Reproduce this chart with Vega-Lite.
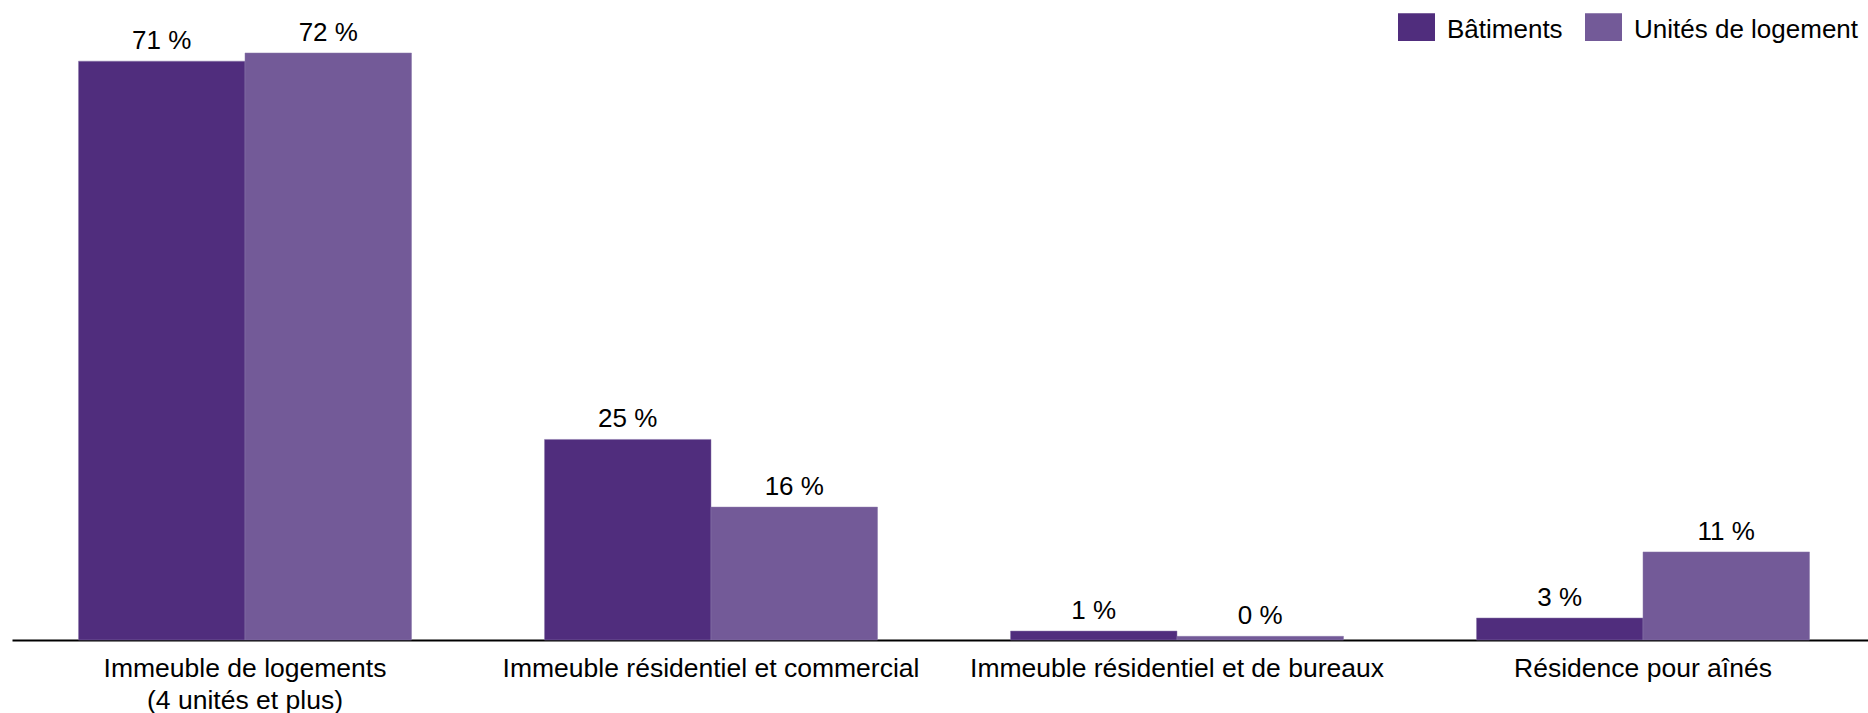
{
  "$schema": "https://vega.github.io/schema/vega-lite/v6.json",
  "autosize": {"type": "none"},
  "width": 1856,
  "height": 640,
  "padding": {"left": 12, "top": 0, "right": 0, "bottom": 73},
  "config": {
    "view": {"stroke": null},
    "font": "Liberation Sans",
    "locale": {"number": {"decimal": ",", "thousands": " ", "grouping": [3], "currency": ["", " €"], "percent": " %"}}
  },
  "data": {
    "values": [
      {"type": "Immeuble de logements (4 unités et plus)", "series": "Bâtiments", "value": 0.71},
      {"type": "Immeuble de logements (4 unités et plus)", "series": "Unités de logement", "value": 0.72},
      {"type": "Immeuble résidentiel et commercial", "series": "Bâtiments", "value": 0.246},
      {"type": "Immeuble résidentiel et commercial", "series": "Unités de logement", "value": 0.163},
      {"type": "Immeuble résidentiel et de bureaux", "series": "Bâtiments", "value": 0.011},
      {"type": "Immeuble résidentiel et de bureaux", "series": "Unités de logement", "value": 0.0045},
      {"type": "Résidence pour aînés", "series": "Bâtiments", "value": 0.027},
      {"type": "Résidence pour aînés", "series": "Unités de logement", "value": 0.108}
    ]
  },
  "encoding": {
    "x": {
      "field": "type", "type": "nominal", "sort": null,
      "scale": {"range": [0, 1864], "paddingInner": 0.2854, "paddingOuter": 0.1427},
      "axis": {
        "title": null, "labelAngle": 0, "ticks": false, "domain": true,
        "domainColor": "#000000", "domainWidth": 2,
        "labelFontSize": 26.5, "labelColor": "#000000", "labelFont": "Liberation Sans",
        "labelPadding": 15, "labelLineHeight": 32, "labelLimit": 0,
        "labelExpr": "datum.label == 'Immeuble de logements (4 unités et plus)' ? ['Immeuble de logements', '(4 unités et plus)'] : datum.label"
      }
    },
    "xOffset": {"field": "series", "type": "nominal", "sort": ["Bâtiments", "Unités de logement"], "scale": {"paddingInner": 0, "paddingOuter": 0}},
    "y": {"field": "value", "type": "quantitative", "scale": {"domain": [0, 0.785], "nice": false, "zero": true}, "axis": null}
  },
  "layer": [
    {
      "mark": {"type": "bar", "stroke": "#8a78ab", "strokeWidth": 0.5},
      "encoding": {
        "color": {
          "field": "series", "type": "nominal",
          "scale": {"domain": ["Bâtiments", "Unités de logement"], "range": ["#502D7D", "#735A98"]},
          "legend": {
            "title": null, "orient": "none", "direction": "horizontal",
            "legendX": 1386, "legendY": 11, "padding": 0,
            "symbolType": "M-1,-0.892H1V0.605H-1Z", "symbolSize": 1369,
            "symbolStrokeWidth": 0, "symbolOpacity": 1,
            "labelFontSize": 26, "labelColor": "#000000", "labelFont": "Liberation Sans",
            "labelOffset": 12, "columnPadding": 22, "labelLimit": 0
          }
        }
      }
    },
    {
      "mark": {"type": "text", "baseline": "alphabetic", "dy": -12, "fontSize": 26, "color": "#000000", "font": "Liberation Sans"},
      "encoding": {
        "text": {"field": "value", "type": "quantitative", "format": ".0%"}
      }
    }
  ]
}
